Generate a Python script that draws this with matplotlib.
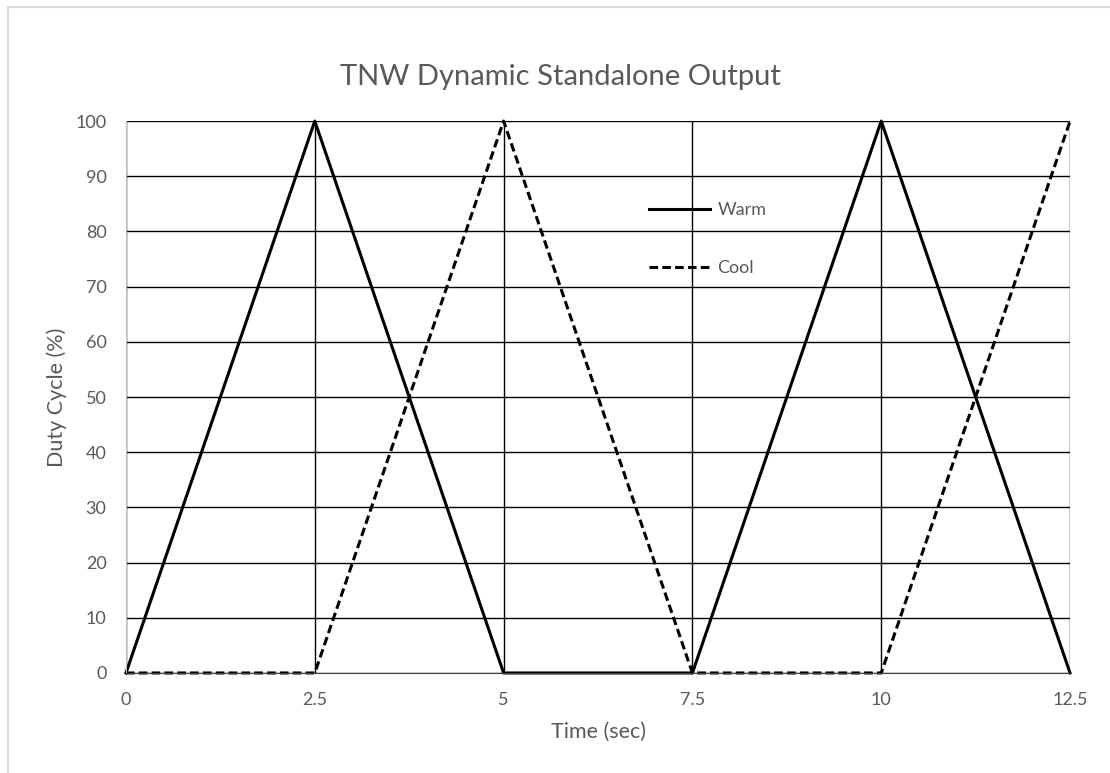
import matplotlib.pyplot as plt
from matplotlib.patches import Rectangle

# data
t = [0, 2.5, 5, 7.5, 10, 12.5]
warm = [0, 100, 0, 0, 100, 0]
cool = [0, 0, 100, 0, 0, 100]
xticks = [0, 2.5, 5, 7.5, 10, 12.5]
xlabels = ['0', '2.5', '5', '7.5', '10', '12.5']

plt.rcParams['font.family'] = ['Lato', 'DejaVu Sans']
grey = '#595959'

fig = plt.figure(figsize=(11.1, 7.73), dpi=100)
ax = fig.add_axes([0.1135, 0.1294, 0.8505, 0.714])

# chart border (only top and left are inside the picture)
fig.patches.append(Rectangle((8 / 1110, -0.05), 1.05, 1 - 7 / 773 + 0.05,
                             transform=fig.transFigure, fill=False,
                             edgecolor='#d9dcdc', linewidth=1.5))

ax.plot(t, warm, color='black', linewidth=2.2, label='Warm', clip_on=False)
ax.plot(t, cool, color='black', linewidth=2.2, linestyle=(0, (2.8, 1.4)),
        label='Cool', clip_on=False)

ax.set_xlim(0, 12.5)
ax.set_ylim(0, 100)
ax.set_xticks(xticks)
ax.set_xticklabels(xlabels)
ax.set_yticks(range(0, 101, 10))
ax.grid(True, color='black', linewidth=1)
ax.set_axisbelow(True)
ax.tick_params(axis='x', length=0, colors=grey, labelsize=13, pad=14)
ax.tick_params(axis='y', length=0, colors=grey, labelsize=13, pad=14)
for s in ['top', 'right']:
    ax.spines[s].set_visible(False)
ax.spines['left'].set_color('#bfbfbf')
ax.spines['bottom'].set_color('#404040')

ax.set_xlabel('Time (sec)', color=grey, fontsize=15.5, labelpad=10)
ax.set_ylabel('Duty Cycle (%)', color=grey, fontsize=15.5, labelpad=6)
fig.text(0.505, 0.9, 'TNW Dynamic Standalone Output', ha='center', va='center',
         color=grey, fontsize=21)

leg = ax.legend(loc='upper left', bbox_to_anchor=(0.554, 0.853), frameon=False,
                fontsize=13, handlelength=3.4, labelspacing=2.33, handletextpad=0.4,
                borderpad=0, borderaxespad=0)
for txt in leg.get_texts():
    txt.set_color(grey)

fig.savefig('out.png', dpi=100)
